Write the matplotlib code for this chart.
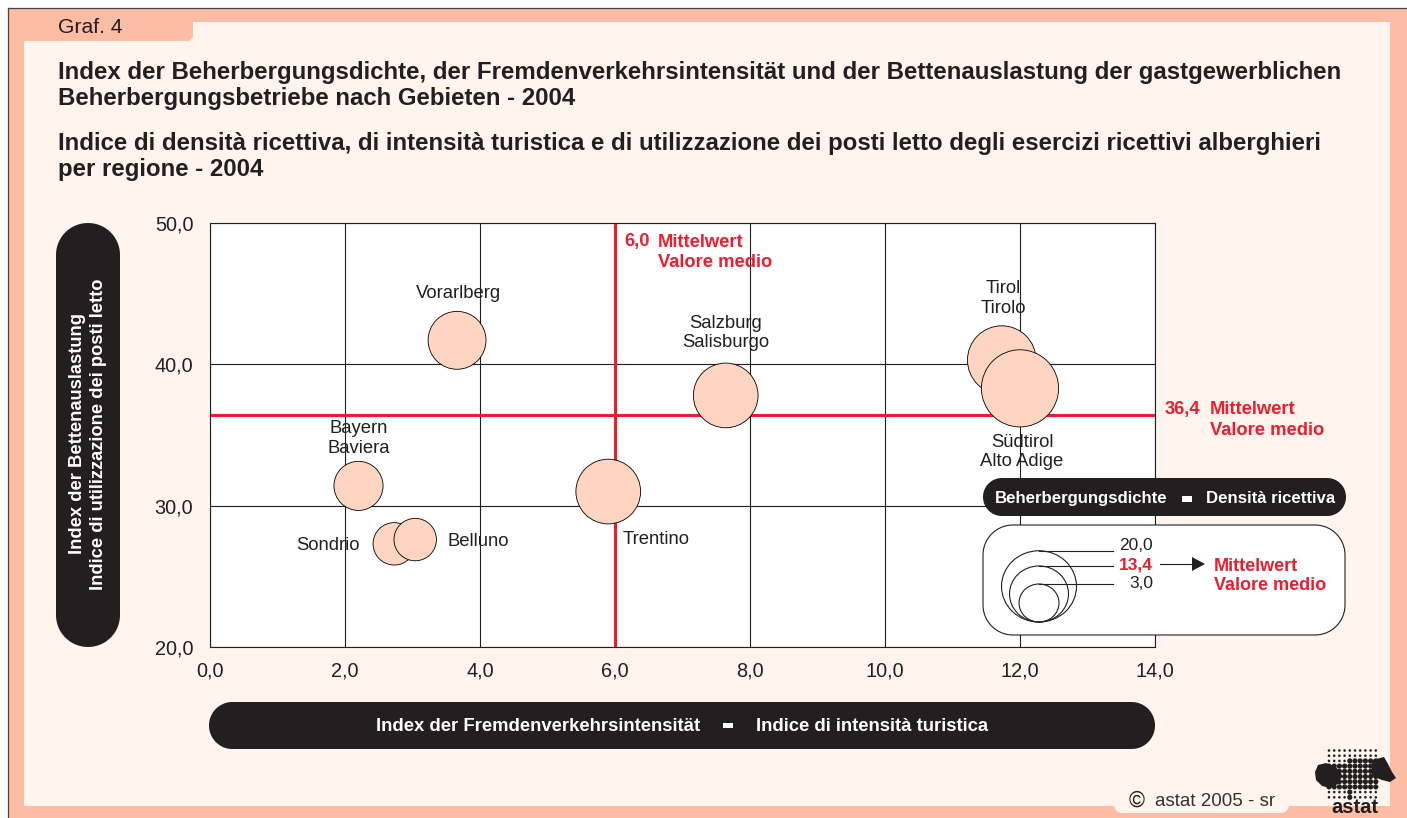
import numpy as np
import matplotlib
matplotlib.use("Agg")
import matplotlib.pyplot as plt
from matplotlib.patches import Rectangle, Polygon, Ellipse

plt.rcParams['font.family'] = ['Liberation Sans', 'DejaVu Sans']

regions = ["Vorarlberg", "Salzburg", "Tirol", "Südtirol", "Bayern", "Sondrio", "Belluno", "Trentino"]
tourism_intensity = [3.66, 7.64, 11.73, 12.0, 2.2, 2.73, 3.04, 5.9]
bed_occupancy = [41.7, 37.8, 40.3, 38.3, 31.4, 27.3, 27.6, 31.0]
bed_density = [12.9, 15.9, 17.5, 20.8, 8.5, 4.6, 4.6, 15.9]
mean_intensity = 6.0
mean_occupancy = 36.4
legend_density = [20.0, 13.4, 3.0]
x_ticks = [0, 2, 4, 6, 8, 10, 12, 14]
x_tick_labels = ["0,0", "2,0", "4,0", "6,0", "8,0", "10,0", "12,0", "14,0"]
y_ticks = [20, 30, 40, 50]
y_tick_labels = ["20,0", "30,0", "40,0", "50,0"]

SALMON = "#fdbca4"
CREAM = "#fff4ee"
DARK = "#231f20"
RED = "#ed1c2e"
BUBBLE = "#fdd5c0"
W, H = 1407, 818


def diam(v):
    # bubble diameter in px as drawn by the reference's size key
    return np.polyval(np.polyfit(legend_density, [75, 59, 40], 2), v)


fig = plt.figure(figsize=(W / 100, H / 100), dpi=100, facecolor="white")


def pixel_axes(z):
    a = fig.add_axes([0, 0, 1, 1], zorder=z)
    a.set_xlim(0, W)
    a.set_ylim(H, 0)
    a.axis("off")
    a.patch.set_alpha(0)
    return a


def rounded(x0, y0, x1, y1, r, corners=(True, True, True, True)):
    # corners: top-left, top-right, bottom-right, bottom-left
    pts = []
    spec = [(x0, y0, x0 + r, y0 + r, 180), (x1, y0, x1 - r, y0 + r, 270),
            (x1, y1, x1 - r, y1 - r, 0), (x0, y1, x0 + r, y1 - r, 90)]
    for on, (cx, cy, ax_, ay_, start) in zip(corners, spec):
        if on:
            t = np.radians(np.linspace(start, start + 90, 24))
            pts.extend(zip(ax_ + r * np.cos(t), ay_ + r * np.sin(t)))
        else:
            pts.append((cx, cy))
    return pts


def pill(a, x0, y0, x1, y1, r, fc, ec="none", lw=1.0, z=2, corners=(True, True, True, True)):
    a.add_patch(Polygon(rounded(x0, y0, x1, y1, r, corners), closed=True, fc=fc, ec=ec, lw=lw, zorder=z))


bg = pixel_axes(0)
bg.add_patch(Rectangle((8, 8), W - 8, H - 8, fc=SALMON, ec="none"))
bg.add_patch(Rectangle((24, 22), 1366, 784, fc=CREAM, ec="none", zorder=1))
pill(bg, 24, 18, 193, 41, 6, SALMON, z=2, corners=(False, False, True, False))
pill(bg, 1114, 795, 1289, 813, 8, CREAM, z=2, corners=(False, False, True, True))
bg.plot([8, 8], [H, 8], color="#444444", lw=0.9, zorder=5)
bg.plot([8, W], [8, 8], color="#444444", lw=0.9, zorder=5)

bg.text(58, 27.5, "Graf. 4", fontsize=15.2, color=DARK, va="center", ha="left", zorder=3)
title_de = ("Index der Beherbergungsdichte, der Fremdenverkehrsintensität und der Bettenauslastung der gastgewerblichen\n"
            "Beherbergungsbetriebe nach Gebieten - 2004")
title_it = ("Indice di densità ricettiva, di intensità turistica e di utilizzazione dei posti letto degli esercizi ricettivi alberghieri\n"
            "per regione - 2004")
bg.text(58, 85.5, title_de, fontsize=17.28, fontweight="bold", color=DARK, va="center", ha="left", linespacing=1.19, zorder=3)
bg.text(58, 156.5, title_it, fontsize=17.28, fontweight="bold", color=DARK, va="center", ha="left", linespacing=1.19, zorder=3)

ax = fig.add_axes([210 / W, 1 - 647 / H, 945 / W, 424 / H], zorder=1)
ax.set_facecolor("white")
ax.set_xlim(0, 14)
ax.set_ylim(20, 50)
ax.set_xticks(x_ticks, x_tick_labels, fontsize=14.3, color=DARK)
ax.set_yticks(y_ticks, y_tick_labels, fontsize=14.3, color=DARK)
ax.tick_params(axis="x", length=0, pad=10.3)
ax.tick_params(axis="y", length=0, pad=12)
ax.grid(True, color=DARK, lw=0.8, zorder=1)
ax.set_axisbelow(True)
for s in ax.spines.values():
    s.set_color(DARK)
    s.set_linewidth(0.8)
ax.axvline(mean_intensity, color=RED, lw=2.2, zorder=2)
ax.axhline(mean_occupancy, color=RED, lw=2.2, zorder=2)
sizes = (diam(np.array(bed_density)) * 0.72) ** 2
ax.scatter(tourism_intensity, bed_occupancy, s=sizes, c=BUBBLE, edgecolors="black", linewidths=0.6, zorder=3, clip_on=False)

fg = pixel_axes(2)
for x, y, t in [(458, 294, "Vorarlberg"), (726, 333, "Salzburg\nSalisburgo"),
                (1003, 298.5, "Tirol\nTirolo"), (1022, 452, "Südtirol\nAlto Adige"),
                (359, 438.5, "Bayern\nBaviera"), (328, 546, "Sondrio"),
                (478, 542, "Belluno"), (656.5, 540, "Trentino")]:
    fg.text(x, y, t, fontsize=13.3, color=DARK, ha="center", va="center", linespacing=1.2)

RED_KW = dict(fontsize=13.2, fontweight="bold", color=RED, va="center", linespacing=1.25)
fg.text(624, 241.5, "6,0", **RED_KW)
fg.text(658, 252.5, "Mittelwert\nValore medio", **RED_KW)
fg.text(1165, 409.5, "36,4", **RED_KW)
fg.text(1210, 420, "Mittelwert\nValore medio", **RED_KW)

# axis title pills
pill(fg, 56, 223, 120, 647, 31.9, DARK)
fg.text(88, 434, "Index der Bettenauslastung\nIndice di utilizzazione dei posti letto", rotation=90, fontsize=13.2,
        fontweight="bold", color="white", ha="center", va="center", linespacing=1.3, zorder=3)
pill(fg, 209, 702, 1155, 749, 23.4, DARK)
fg.text(538, 726.5, "Index der Fremdenverkehrsintensität", fontsize=13.3, fontweight="bold", color="white", ha="center", va="center", zorder=3)
fg.add_patch(Rectangle((723, 723), 10, 5, fc="white", ec="none", zorder=3))
fg.text(872.5, 726.5, "Indice di intensità turistica", fontsize=13.3, fontweight="bold", color="white", ha="center", va="center", zorder=3)

# size key
pill(fg, 983, 478, 1346, 516, 18.9, DARK)
fg.text(1081, 503, "Beherbergungsdichte", fontsize=12.1, fontweight="bold", color="white", ha="center", va="baseline", zorder=3)
fg.add_patch(Rectangle((1182, 496), 10, 6, fc="white", ec="none", zorder=3))
fg.text(1271, 503, "Densità ricettiva", fontsize=12.1, fontweight="bold", color="white", ha="center", va="baseline", zorder=3)
pill(fg, 983, 525, 1345, 635, 30, "white", ec=DARK, lw=0.8)

key_cx, key_bottom = 1039, 622
key_label_y = [545.5, 564.5, 584]
for v, ly, col, bold in zip(legend_density, key_label_y, [DARK, RED, DARK], [False, True, False]):
    d = diam(v)
    h = d * 0.95
    fg.add_patch(Ellipse((key_cx, key_bottom - h / 2), d, h, fc="none", ec=DARK, lw=0.8, zorder=4))
    top = key_bottom - h
    fg.plot([key_cx, 1113], [top, top], color=DARK, lw=0.8, zorder=4)
    fg.text(1153, ly, f"{v:.1f}".replace(".", ","), fontsize=12.5, color=col,
            fontweight="bold" if bold else "normal", ha="right", va="center", zorder=4)
fg.plot([1160, 1192], [564, 564], color=DARK, lw=0.8, zorder=4)
fg.add_patch(Polygon([(1192, 557), (1205, 564), (1192, 571)], closed=True, fc=DARK, ec="none", zorder=4))
fg.text(1214, 576, "Mittelwert\nValore medio", zorder=4, **{**RED_KW, "linespacing": 1.2, "fontsize": 13.0})

# footer and logo
fg.text(1137, 801, "©", fontsize=15.5, color=DARK, ha="center", va="center")
fg.text(1155, 802, "astat 2005 - sr", fontsize=13.5, color="#333333", ha="left", va="center")
gx, gy = np.meshgrid(np.arange(1329, 1381, 5.2), np.arange(750.5, 800, 5.2))
gx, gy = gx.ravel(), gy.ravel()
core = (gy > 757) & (gy < 787) & ~((gy < 764) & (gx < 1345))
stem = (gy >= 787) & (gy < 800) & (np.abs(gx - 1350) < 3)
fg.scatter(gx, gy, s=np.where(core | stem, 14, 3.5), c=DARK, linewidths=0)
left_blob = [(1315, 772), (1318, 765), (1326, 763), (1336, 767), (1342, 775), (1338, 784), (1330, 788), (1322, 786), (1316, 780)]
right_blob = [(1372, 760), (1384, 757), (1388, 764), (1392, 772), (1396, 778), (1390, 782), (1382, 780), (1372, 776)]
fg.add_patch(Polygon(left_blob, closed=True, fc=DARK, ec="none"))
fg.add_patch(Polygon(right_blob, closed=True, fc=DARK, ec="none"))
fg.text(1354.5, 813, "astat", fontsize=14.5, fontweight="bold", color=DARK, ha="center", va="baseline")

fig.savefig("out.png", dpi=100, facecolor="white")
